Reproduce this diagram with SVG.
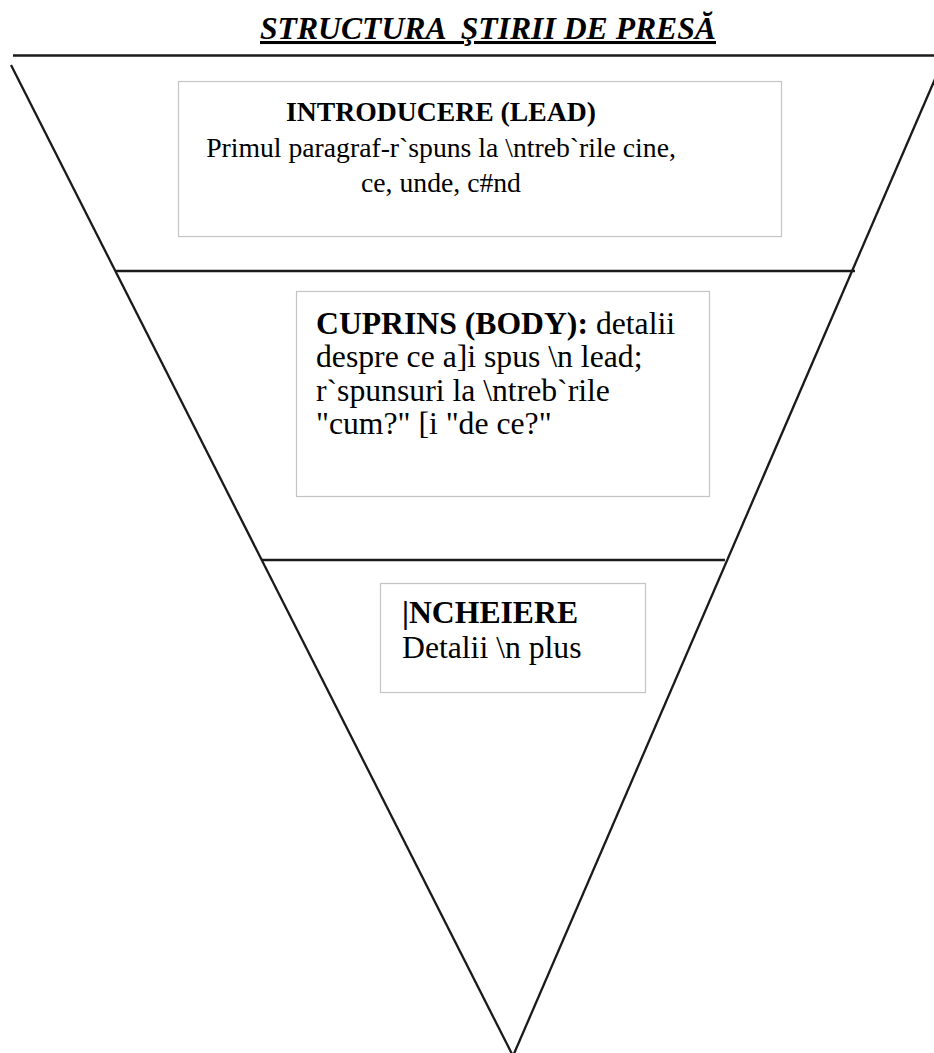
<svg xmlns="http://www.w3.org/2000/svg" width="934" height="1053" viewBox="0 0 934 1053">
<style>
.t{font-family:"Liberation Serif","Times New Roman",serif;fill:#000}
.b{font-weight:bold}
.s1{font-size:27.7px}
.s2{font-size:31.7px}
.box{fill:#fff;stroke:#c4c4c4;stroke-width:1.2}
.ln{stroke:#1a1a1a;stroke-width:2.3;fill:none}
</style>
<rect width="934" height="1053" fill="#fff"/>
<g id="title">
<text class="t b" x="260" y="39" font-size="30.5" font-style="italic" text-decoration="underline" textLength="456" lengthAdjust="spacingAndGlyphs" xml:space="preserve">STRUCTURA  ŞTIRII DE PRESĂ</text>
</g>
<g id="connectors">
<line class="ln" x1="13" y1="55.5" x2="934" y2="55.5" stroke-width="2.6"/>
<line class="ln" x1="11" y1="65" x2="513" y2="1056"/>
<line class="ln" x1="935" y1="79" x2="513" y2="1056"/>
<line class="ln" x1="115" y1="271" x2="855" y2="271"/>
<line class="ln" x1="262" y1="560" x2="725" y2="560"/>
</g>
<g id="lead">
<rect class="box" x="178.5" y="81.5" width="603" height="155"/>
<text class="t b s1" x="441" y="121" text-anchor="middle">INTRODUCERE (LEAD)</text>
<text class="t s1" x="441" y="157" text-anchor="middle">Primul paragraf-r`spuns la \ntreb`rile cine,</text>
<text class="t s1" x="441" y="192" text-anchor="middle">ce, unde, c#nd</text>
</g>
<g id="body">
<rect class="box" x="296.5" y="291.5" width="413" height="205"/>
<text class="t s2" x="316" y="334"><tspan class="b">CUPRINS (BODY):</tspan> detalii</text>
<text class="t s2" x="316" y="367">despre ce a]i spus \n lead;</text>
<text class="t s2" x="316" y="401">r`spunsuri la \ntreb`rile</text>
<text class="t s2" x="316" y="434">"cum?" [i "de ce?"</text>
</g>
<g id="end">
<rect class="box" x="380.5" y="583.5" width="265" height="109"/>
<text class="t b s2" x="402" y="623">|NCHEIERE</text>
<text class="t s2" x="402" y="658">Detalii \n plus</text>
</g>
</svg>
